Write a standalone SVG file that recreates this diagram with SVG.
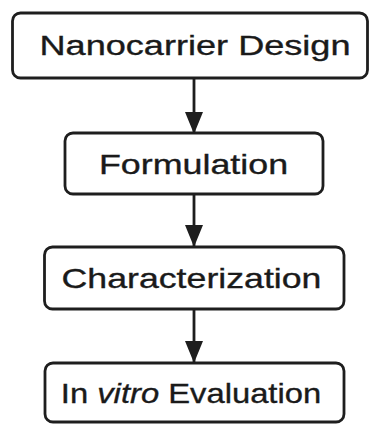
<svg xmlns="http://www.w3.org/2000/svg" width="369" height="424" viewBox="0 0 369 424">
<style>
.box{fill:#ffffff;stroke:#1e1e1e;stroke-width:2.8}
.lbl{font-family:"Liberation Sans",Arial,Helvetica,sans-serif;font-size:28px;fill:#1a1a1a;stroke:#1a1a1a;stroke-width:0.35;text-anchor:middle}
.edge{stroke:#1e1e1e;stroke-width:2.8;fill:none}
</style>
<defs>
<marker id="ah" viewBox="0 0 22 18" refX="22" refY="9" markerWidth="22" markerHeight="18" markerUnits="userSpaceOnUse" orient="auto">
<path d="M0,0 L22,9 L0,18 z" fill="#1e1e1e"/>
</marker>
</defs>
<rect width="369" height="424" fill="#ffffff"/>
<g id="connectors">
<line class="edge" x1="194" y1="78" x2="194" y2="134" marker-end="url(#ah)"/>
<line class="edge" x1="194" y1="194" x2="194" y2="247" marker-end="url(#ah)"/>
<line class="edge" x1="194" y1="309" x2="194" y2="363" marker-end="url(#ah)"/>
</g>
<g id="node-design">
<rect class="box" x="12.5" y="13" width="355" height="65" rx="8"/>
<text class="lbl" transform="translate(195,55) scale(1.29,1)">Nanocarrier Design</text>
</g>
<g id="node-formulation">
<rect class="box" x="65" y="133" width="258" height="61" rx="8"/>
<text class="lbl" transform="translate(193.5,174) scale(1.28,1)">Formulation</text>
</g>
<g id="node-characterization">
<rect class="box" x="44.5" y="247" width="299.5" height="62" rx="8"/>
<text class="lbl" transform="translate(191.5,288) scale(1.275,1)">Characterization</text>
</g>
<g id="node-invitro">
<rect class="box" x="45" y="363" width="299" height="59" rx="8"/>
<text class="lbl" transform="translate(191,402.5) scale(1.17,1)">In <tspan font-style="italic">vitro</tspan> Evaluation</text>
</g>
</svg>
